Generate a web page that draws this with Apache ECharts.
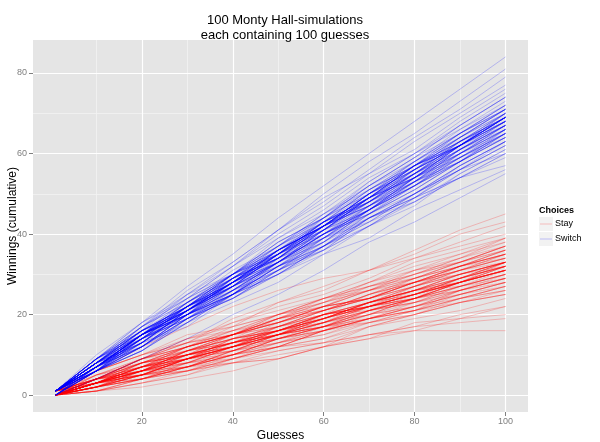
<!DOCTYPE html>
<html>
<head>
<meta charset="utf-8">
<script src="https://cdn.jsdelivr.net/npm/echarts@6/dist/echarts.min.js"></script>
<style>html,body{margin:0;padding:0;background:#fff;}#chart{width:600px;height:442px;}</style>
</head>
<body>
<div id="chart"></div>
<script>
const guesses = [1,10,20,30,40,50,60,70,80,90,100];
const xTicks = [20,40,60,80,100];
const xMinor = [10,30,50,70,90];
const yTicks = [0,20,40,60,80];
const yMinor = [10,30,50,70];
const choices = ['Stay','Switch'];

const stayRuns = [
[0,2,7,10,11,15,18,23,25,28,32],[0,4,6,9,14,16,20,21,24,29,32],[1,4,9,13,15,19,22,24,29,32,36],[0,1,4,6,10,12,13,17,20,23,25],
[0,3,5,10,13,15,20,22,25,29,33],[1,6,10,13,19,23,26,31,35,40,43],[0,2,5,9,10,14,16,19,21,26,29],[0,4,9,11,14,19,23,26,31,33,37],
[0,1,2,4,6,9,12,17,20,24,27],[1,3,6,11,13,17,20,22,27,30,33],[0,3,8,10,13,15,19,23,26,27,31],[0,5,9,13,15,20,23,28,32,35,39],
[0,1,3,6,8,9,12,14,18,19,22],[1,4,8,10,15,18,22,24,27,32,34],[0,3,4,7,11,13,17,18,21,25,28],[0,2,4,7,8,11,13,15,16,16,16],
[0,3,7,8,12,15,17,22,24,28,31],[0,5,9,14,17,23,27,31,36,41,45],[1,5,7,12,15,19,24,27,31,34,39],[0,3,6,7,11,13,16,20,22,26,29],
[0,2,6,8,9,12,16,18,21,24,26],[0,3,7,11,13,18,21,25,28,32,35],[0,4,6,11,14,17,19,23,26,30,33],[1,3,8,11,15,17,21,24,27,31,33],
[0,1,4,6,8,9,12,14,16,19,20],[0,3,5,9,14,16,19,23,26,28,33],[0,6,10,13,18,22,25,29,34,37,40],[0,3,8,10,13,15,19,22,24,28,31],
[0,2,4,8,10,13,15,19,21,24,26],[1,4,7,12,15,19,21,25,28,31,35],[0,4,9,12,16,18,22,27,30,33,36],[0,3,4,8,11,15,17,20,24,27,30],
[0,4,7,9,13,16,20,22,26,29,33],[0,2,5,6,9,13,15,18,20,23,25],[1,4,9,12,15,19,21,25,29,32,35],[0,3,5,9,12,15,19,22,24,28,32],
[0,6,12,17,22,26,29,31,34,38,42],[0,3,5,7,11,14,17,19,23,26,29],[0,2,6,10,13,15,19,22,25,29,32],[0,2,4,7,10,12,16,19,21,23,26],
[1,6,10,15,17,20,22,24,28,31,34],[0,1,3,5,9,12,16,21,24,28,31],[0,4,9,14,18,21,24,26,30,33,37],[0,2,6,7,10,12,16,19,21,24,27],
[0,3,6,11,15,17,20,23,27,30,33],[1,4,6,9,12,16,18,21,24,28,31],[0,1,4,7,10,14,17,19,22,26,28],[0,4,7,9,12,17,21,24,27,31,34],
[0,3,8,12,17,20,24,28,31,35,38],[0,2,5,9,12,15,17,21,24,27,30],[0,4,5,7,10,14,18,21,24,26,30],[1,5,8,12,15,18,21,24,28,30,33],
[0,3,7,9,12,15,18,22,25,28,32],[0,2,5,9,13,16,19,23,26,29,32],[0,1,3,5,8,10,12,15,17,20,22],[0,5,8,12,15,19,22,26,29,33,36],
[1,3,6,9,12,16,19,22,25,28,31],[0,3,6,10,12,15,18,21,25,28,31],[0,4,6,9,13,16,20,23,26,30,33],[0,2,4,7,10,13,16,19,22,25,28],
[1,4,8,10,15,18,22,24,28,31,35],[0,4,8,11,13,17,20,25,28,32,35],[0,3,6,8,12,14,17,21,23,25,28],[0,2,6,9,11,15,17,20,23,27,29],
[0,6,10,14,16,20,24,27,29,33,37],[1,3,6,10,12,16,19,23,26,28,32],[0,2,5,7,10,14,16,19,22,24,27],[0,3,7,10,13,15,20,23,26,30,33],
[0,3,7,10,12,17,20,23,27,31,34],[0,4,5,8,12,14,17,20,24,26,29],[1,4,8,12,15,20,23,26,30,34,37],[0,2,5,9,11,15,18,21,23,27,30],
[0,4,7,12,15,18,22,24,28,32,35],[0,3,5,6,9,12,14,18,20,23,25],[0,3,6,9,14,16,19,23,26,29,32],[1,4,8,10,13,16,20,22,25,28,31],
[0,3,7,10,14,16,19,23,27,30,33],[0,3,5,9,12,15,19,22,25,28,31],[0,2,5,8,10,14,17,20,22,25,28],[0,4,9,12,16,19,23,27,30,34,38],
[1,3,6,11,14,16,19,23,26,30,32],[0,3,6,9,11,15,18,22,25,28,31],[0,3,7,10,13,16,20,23,25,29,33],[0,2,4,7,9,12,14,17,19,21,24],
[0,3,7,9,12,15,17,21,24,27,30],[1,4,9,12,15,19,22,26,28,32,36],[0,3,5,9,12,14,17,21,23,26,29],[0,3,6,10,13,16,18,22,25,29,32],
[0,4,7,11,15,18,21,25,29,32,36],[0,2,5,7,11,14,16,19,22,25,27],[1,3,7,10,12,16,20,22,26,29,33],[0,3,7,11,14,17,21,24,28,32,35],
[0,3,6,8,12,15,18,20,24,27,30],[0,4,9,13,16,20,24,28,33,36,39],[0,2,4,6,9,11,13,15,17,18,19],[0,3,6,11,14,17,21,24,28,31,34],
[1,4,6,10,13,16,20,22,25,29,32],[0,3,7,9,12,15,18,22,24,28,31],[0,3,5,9,12,16,19,22,25,28,31],[0,4,8,11,15,18,22,26,29,33,37]
];

const switchRuns = [
[1,7,15,20,27,33,41,46,53,61,67],[1,6,13,21,27,32,39,47,53,60,66],[0,7,13,21,28,33,41,48,54,62,70],[1,9,16,21,29,36,42,50,57,62,69],
[1,6,12,19,24,30,35,42,47,55,61],[0,6,14,19,26,31,39,45,52,58,65],[1,8,13,21,27,35,40,47,53,60,66],[1,9,17,24,30,38,44,53,60,66,73],
[0,6,13,17,25,31,38,44,49,57,63],[1,8,13,21,28,34,42,49,54,62,69],[1,6,14,20,25,32,38,46,52,59,64],[1,9,15,22,30,35,42,50,56,62,69],
[0,7,15,20,28,35,41,48,53,61,67],[1,7,14,20,24,31,37,44,49,56,62],[1,9,17,26,33,41,49,55,63,70,77],[1,10,18,27,35,44,52,60,68,76,84],
[1,9,18,25,33,41,50,58,65,73,81],[1,9,17,25,32,41,48,56,64,71,79],[0,6,11,18,23,28,35,39,46,51,56],[0,4,9,14,20,25,31,38,43,49,55],
[1,8,14,19,25,32,36,42,49,54,60],[1,6,12,20,25,30,37,43,48,54,60],[1,8,15,20,29,36,42,50,56,64,71],[0,7,15,21,27,36,42,49,57,62,70],
[1,9,14,21,30,35,42,50,56,63,69],[1,7,15,20,27,33,39,46,52,59,65],[1,8,12,19,25,34,40,47,52,60,67],[1,8,15,20,29,34,42,48,55,61,68],
[0,6,11,19,25,32,37,45,50,57,63],[1,6,15,21,28,36,42,48,56,62,69],[1,9,16,25,30,37,45,52,59,65,72],[1,8,17,23,30,38,44,52,59,67,74],
[1,7,12,20,26,31,39,43,50,56,62],[0,6,14,19,26,34,39,46,52,60,65],[1,8,13,22,28,35,43,48,55,63,68],[1,9,16,21,29,34,41,49,54,62,68],
[1,6,12,20,25,31,36,44,48,55,61],[1,6,15,22,27,35,42,47,55,60,67],[1,9,15,23,30,35,44,50,58,64,71],[0,6,11,18,25,30,36,44,49,56,62],
[1,8,15,21,29,35,41,49,55,61,68],[1,7,16,22,27,35,43,48,55,63,69],[1,9,15,23,30,37,43,51,57,65,71],[1,8,16,21,27,34,39,46,53,58,65],
[0,6,15,21,29,34,43,49,57,64,71],[1,7,15,21,28,33,40,45,51,58,64],[1,8,13,20,27,33,40,46,53,58,66],[1,8,16,22,30,36,43,51,57,63,70],
[1,7,12,19,24,31,37,44,50,57,63],[1,7,14,22,29,34,42,48,56,62,69],[0,7,15,20,27,32,40,45,53,59,66],[1,9,18,24,32,39,46,54,60,67,74],
[1,7,15,22,28,36,43,48,55,62,68],[1,6,12,20,26,33,38,46,52,59,65],[1,7,14,23,29,37,43,51,58,65,71],[1,8,16,21,28,34,42,47,54,60,66],
[0,6,11,18,25,30,37,43,50,56,63],[1,8,14,22,29,36,42,50,57,62,69],[1,9,16,22,30,37,45,51,58,65,72],[1,7,14,20,28,35,40,48,55,61,67],
[1,8,16,22,29,34,42,49,55,63,69],[1,6,13,20,26,33,39,47,53,61,66],[1,8,15,23,31,37,44,52,59,67,74],[0,7,12,20,25,32,38,46,52,58,65],
[1,7,15,22,27,35,42,48,56,63,69],[1,7,13,18,26,33,38,45,51,58,64],[1,8,16,22,30,36,42,50,57,63,70],[1,7,14,21,27,35,41,48,54,62,67],
[0,6,14,20,25,33,40,46,54,61,68],[1,7,14,22,28,35,43,49,56,62,68],[1,8,15,24,30,39,45,53,60,68,75],[1,7,12,18,25,32,37,44,50,57,63],
[1,7,15,21,28,36,41,49,56,62,69],[1,6,12,20,25,33,40,46,54,59,65],[0,7,14,20,28,34,42,47,54,61,67],[1,8,16,22,28,36,42,50,57,64,70],
[1,7,15,20,26,33,40,45,52,58,64],[1,7,14,22,28,36,42,49,57,63,69],[1,8,17,23,30,38,44,52,58,66,72],[0,6,11,19,25,32,37,45,51,58,64],
[1,8,15,21,28,36,42,49,57,62,68],[1,7,13,21,27,33,41,46,53,59,66],[1,8,16,22,30,36,44,51,57,65,71],[1,7,15,20,26,32,39,44,50,56,60],
[1,6,12,19,24,31,36,42,49,54,59],[1,8,15,23,29,36,42,50,55,62,68],[0,7,13,21,28,34,41,49,54,62,69],[1,7,15,22,28,36,43,49,57,63,70],
[1,7,13,21,28,34,41,49,54,61,67],[1,8,16,23,29,37,44,50,58,65,72],[1,7,15,21,28,33,41,47,54,60,66],[0,6,13,21,26,33,40,46,54,60,67],
[1,7,15,22,29,35,43,49,57,64,70],[1,8,17,24,32,40,47,55,61,69,76],[1,7,12,19,24,30,37,42,48,54,57],[1,7,15,21,27,35,42,47,55,62,68],
[1,7,14,22,28,35,43,49,56,62,69],[1,6,14,19,27,33,40,46,54,59,65],[1,8,14,22,29,35,43,50,56,64,71],[0,7,15,21,28,35,41,49,55,62,69]
];

const colors = { Stay: 'rgba(255,0,0,0.22)', Switch: 'rgba(0,0,255,0.22)' };
const FONT = 'Liberation Sans, Arial, Helvetica, sans-serif';

function runSeries(runs, name) {
  return runs.map(run => ({
    type: 'line',
    name: name,
    xAxisIndex: 0, yAxisIndex: 0,
    data: guesses.map((g, i) => [g, run[i]]),
    symbol: 'none',
    silent: true,
    z: 3,
    lineStyle: { color: colors[name], width: 1 },
    emphasis: { disabled: true }
  }));
}

const chart = echarts.init(document.getElementById('chart'), null, { renderer: 'canvas' });

const axisCommon = (min, max) => ({ type: 'value', min: min, max: max });

const option = {
  animation: false,
  backgroundColor: '#ffffff',
  textStyle: { fontFamily: FONT },
  title: {
    text: '100 Monty Hall-simulations\neach containing 100 guesses',
    left: 280, top: 8, textAlign: 'center',
    textStyle: { fontFamily: FONT, fontSize: 13, fontWeight: 'normal', color: '#000', lineHeight: 15 }
  },
  grid: { left: 33, right: 72, top: 40, bottom: 30, show: true, backgroundColor: '#E5E5E5', borderWidth: 0, containLabel: false, outerBoundsMode: 'none' },
  xAxis: [
    Object.assign(axisCommon(-3.95, 104.95), {
      z: 1,
      name: 'Guesses', nameLocation: 'middle', nameGap: 18, nameMoveOverlap: false,
      nameTextStyle: { fontFamily: FONT, fontSize: 12, color: '#000' },
      axisLine: { show: false, onZero: false },
      axisTick: { show: true, length: 4, customValues: xTicks, lineStyle: { color: '#7F7F7F', width: 1 } },
      axisLabel: { customValues: xTicks, color: '#7F7F7F', fontSize: 9, margin: 5, fontFamily: FONT },
      splitLine: { show: true, lineStyle: { color: '#FFFFFF', width: 1.2 } }
    }),
    Object.assign(axisCommon(-3.95, 104.95), {
      z: 0,
      axisLine: { show: false, onZero: false },
      axisTick: { show: false, customValues: xMinor },
      axisLabel: { show: false, customValues: xMinor },
      splitLine: { show: true, lineStyle: { color: '#F2F2F2', width: 0.8 } }
    })
  ],
  yAxis: [
    Object.assign(axisCommon(-4.2, 88.2), {
      z: 1,
      name: 'Winnings (cumulative)', nameLocation: 'middle', nameGap: 14, nameRotate: 90, nameMoveOverlap: false,
      nameTextStyle: { fontFamily: FONT, fontSize: 12, color: '#000' },
      axisLine: { show: false, onZero: false },
      axisTick: { show: true, length: 4, customValues: yTicks, lineStyle: { color: '#7F7F7F', width: 1 } },
      axisLabel: { customValues: yTicks, color: '#7F7F7F', fontSize: 9, margin: 6, fontFamily: FONT },
      splitLine: { show: true, lineStyle: { color: '#FFFFFF', width: 1.2 } }
    }),
    Object.assign(axisCommon(-4.2, 88.2), {
      z: 0,
      axisLine: { show: false, onZero: false },
      axisTick: { show: false, customValues: yMinor },
      axisLabel: { show: false, customValues: yMinor },
      splitLine: { show: true, lineStyle: { color: '#F2F2F2', width: 0.8 } }
    })
  ],
  series: runSeries(stayRuns, choices[0]).concat(runSeries(switchRuns, choices[1])),
  graphic: [
    { type: 'text', left: 539, top: 206, style: { text: 'Choices', font: 'bold 9px ' + FONT, fill: '#000' } },
    { type: 'rect', left: 539, top: 217, shape: { width: 14, height: 14 }, style: { fill: '#F2F2F2' } },
    { type: 'line', shape: { x1: 540, y1: 224, x2: 552, y2: 224 }, style: { stroke: colors.Stay, lineWidth: 1 } },
    { type: 'text', left: 555, top: 219, style: { text: choices[0], font: '9px ' + FONT, fill: '#000' } },
    { type: 'rect', left: 539, top: 232, shape: { width: 14, height: 14 }, style: { fill: '#F2F2F2' } },
    { type: 'line', shape: { x1: 540, y1: 239, x2: 552, y2: 239 }, style: { stroke: colors.Switch, lineWidth: 1 } },
    { type: 'text', left: 555, top: 234, style: { text: choices[1], font: '9px ' + FONT, fill: '#000' } }
  ]
};
chart.setOption(option);
</script>
</body>
</html>
